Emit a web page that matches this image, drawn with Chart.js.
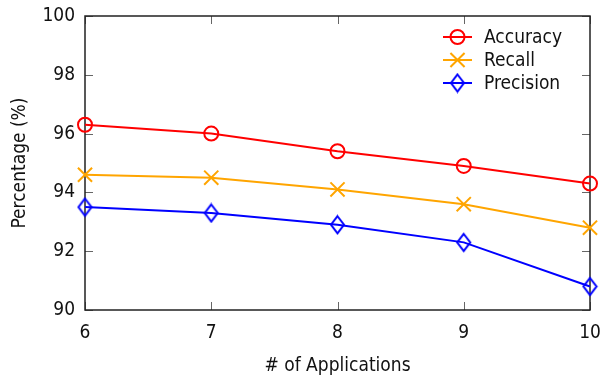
<!DOCTYPE html>
<html>
<head>
<meta charset="utf-8">
<script src="https://cdn.jsdelivr.net/npm/chart.js@4.4.0/dist/chart.umd.min.js"></script>
<style>
  html, body { margin: 0; padding: 0; background: #fff; }
  #wrap { width: 602px; height: 377px; }
</style>
</head>
<body>
<div id="wrap"><canvas id="c" width="602" height="377"></canvas></div>
<script>
// Number of applications on the x axis
const applications = [6, 7, 8, 9, 10];
// Metric values in percent
const accuracy = [96.3, 96.0, 95.4, 94.9, 94.3];
const recall = [94.6, 94.5, 94.1, 93.6, 92.8];
const precision = [93.5, 93.3, 92.9, 92.3, 90.8];
const seriesNames = ['Accuracy', 'Recall', 'Precision'];
const xTicks = [6, 7, 8, 9, 10];
const yTicks = [90, 92, 94, 96, 98, 100];

const FONT = '"DejaVu Sans Condensed", "DejaVu Sans", sans-serif';
const AXIS = '#222';

function pts(vals) { return applications.map((x, i) => ({ x, y: vals[i] })); }

// Tall open diamond marker
function diamond(color, w, h) {
  const c = document.createElement('canvas');
  c.width = w + 4; c.height = h + 4;
  const g = c.getContext('2d');
  const cx = c.width / 2, cy = c.height / 2;
  g.strokeStyle = color;
  g.lineWidth = 2;
  g.beginPath();
  g.moveTo(cx, cy - h / 2);
  g.lineTo(cx + w / 2, cy);
  g.lineTo(cx, cy + h / 2);
  g.lineTo(cx - w / 2, cy);
  g.closePath();
  g.stroke();
  return c;
}

const styles = [
  { color: '#ff0000', point: 'circle', r: 7 },
  { color: '#ffa500', point: 'crossRot', r: 10 },
  { color: '#0000ff', point: diamond('#0000ff', 13, 17), r: 7 }
];
const seriesData = [accuracy, recall, precision];

const datasets = seriesNames.map((name, i) => ({
  label: name,
  data: pts(seriesData[i]),
  borderColor: styles[i].color,
  backgroundColor: 'rgba(0,0,0,0)',
  borderWidth: 2,
  pointStyle: styles[i].point,
  pointRadius: styles[i].r,
  pointBorderWidth: 2,
  pointBackgroundColor: 'rgba(0,0,0,0)',
  pointBorderColor: styles[i].color,
  tension: 0,
  clip: false
}));

// Frame, inward ticks on all four sides, and the key box
const frame = {
  id: 'frame',
  beforeDatasetsDraw(chart) {
    const { ctx, chartArea: a, scales } = chart;
    ctx.save();
    ctx.lineWidth = 1;
    ctx.strokeStyle = '#666';
    const tl = 8;
    xTicks.forEach(v => {
      const x = Math.round(scales.x.getPixelForValue(v)) + 0.5;
      ctx.beginPath();
      ctx.moveTo(x, a.bottom); ctx.lineTo(x, a.bottom - tl);
      ctx.moveTo(x, a.top); ctx.lineTo(x, a.top + tl);
      ctx.stroke();
    });
    yTicks.forEach(v => {
      const y = Math.round(scales.y.getPixelForValue(v)) + 0.5;
      ctx.beginPath();
      ctx.moveTo(a.left, y); ctx.lineTo(a.left + tl, y);
      ctx.moveTo(a.right, y); ctx.lineTo(a.right - tl, y);
      ctx.stroke();
    });
    ctx.strokeStyle = AXIS;
    ctx.lineWidth = 1.5;
    ctx.strokeRect(a.left, a.top, a.right - a.left, a.bottom - a.top);
    ctx.restore();
  },
  afterDatasetsDraw(chart) {
    const { ctx } = chart;
    ctx.save();
    // key
    const kx = 443, kw = 29, ky0 = 37, kdy = 23;
    ctx.font = '19px ' + FONT;
    ctx.textBaseline = 'middle';
    ctx.textAlign = 'left';
    chart.data.datasets.forEach((ds, i) => {
      const y = ky0 + i * kdy;
      ctx.strokeStyle = ds.borderColor;
      ctx.fillStyle = 'rgba(0,0,0,0)';
      ctx.lineWidth = 2;
      ctx.beginPath();
      ctx.moveTo(kx, y); ctx.lineTo(kx + kw, y);
      ctx.stroke();
      Chart.helpers.drawPoint(ctx, {
        pointStyle: ds.pointStyle, radius: ds.pointRadius, rotation: 0, borderWidth: 2
      }, kx + kw / 2, y);
      ctx.fillStyle = '#111';
      ctx.fillText(ds.label, kx + kw + 12, y + 1);
    });
    ctx.restore();
  }
};

new Chart(document.getElementById('c'), {
  type: 'line',
  data: { datasets },
  options: {
    responsive: false,
    animation: false,
    devicePixelRatio: 1,
    layout: { padding: { left: 0, right: 12, top: 16, bottom: 0 } },
    plugins: { legend: { display: false }, tooltip: { enabled: false } },
    scales: {
      x: {
        type: 'linear',
        min: 6, max: 10,
        afterBuildTicks(s) { s.ticks = xTicks.map(v => ({ value: v })); },
        afterFit(s) { s.height = 67; s.paddingLeft = 0; s.paddingRight = 0; },
        grid: { display: false, drawTicks: false },
        border: { display: false },
        ticks: { color: '#111', font: { family: FONT, size: 19 }, padding: 12, maxRotation: 0 },
        title: { display: true, text: '# of Applications', color: '#111',
                 font: { family: FONT, size: 19 }, padding: { top: 0, bottom: 0 } }
      },
      y: {
        type: 'linear',
        min: 90, max: 100,
        afterBuildTicks(s) { s.ticks = yTicks.map(v => ({ value: v })); },
        afterFit(s) { s.width = 85; s.paddingTop = 0; s.paddingBottom = 0; },
        grid: { display: false, drawTicks: false },
        border: { display: false },
        ticks: { color: '#111', font: { family: FONT, size: 19 }, padding: 10 },
        title: { display: true, text: 'Percentage (%)', color: '#111',
                 font: { family: FONT, size: 19 }, padding: { top: 9, bottom: 0 } }
      }
    }
  },
  plugins: [frame]
});
</script>
</body>
</html>
